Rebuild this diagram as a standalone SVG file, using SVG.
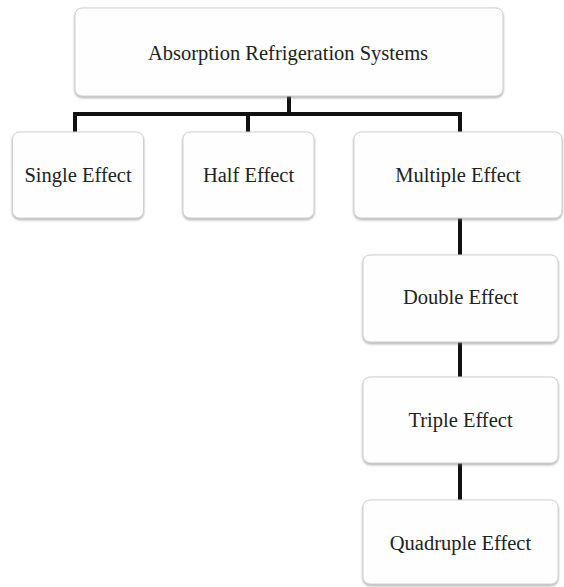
<svg xmlns="http://www.w3.org/2000/svg" width="564" height="587" viewBox="0 0 564 587">
<defs>
<filter id="sh" x="-10%" y="-10%" width="120%" height="130%">
<feDropShadow dx="0" dy="1.5" stdDeviation="1.2" flood-color="#777" flood-opacity="0.6"/>
</filter>
<style>
.box{fill:#fefefe;stroke:#cfcfcf;stroke-width:1;filter:url(#sh)}
.lbl{font-family:"Liberation Serif","Times New Roman",serif;font-size:20.5px;fill:#222;text-anchor:middle}
.con{stroke:#111;stroke-width:4;fill:none;stroke-linecap:butt;stroke-linejoin:miter}
</style>
</defs>
<rect width="564" height="587" fill="#fff"/>
<g id="connectors">
<path class="con" d="M289 96 V114 M75 132 V114 H460 V132 M248 114 V132"/>
<path class="con" d="M460 218 V255 M460 342 V377 M460 463 V500"/>
</g>
<g id="n-absorption"><rect class="box" x="75" y="8" width="428" height="88" rx="7"/><text class="lbl" x="288" y="60">Absorption Refrigeration Systems</text></g>
<g id="n-single"><rect class="box" x="12.5" y="132" width="131" height="86" rx="7"/><text class="lbl" x="78" y="182">Single Effect</text></g>
<g id="n-half"><rect class="box" x="183" y="132" width="131" height="86" rx="7"/><text class="lbl" x="248.5" y="182">Half Effect</text></g>
<g id="n-multiple"><rect class="box" x="354" y="132" width="208" height="86" rx="7"/><text class="lbl" x="458" y="182">Multiple Effect</text></g>
<g id="n-double"><rect class="box" x="363" y="255" width="195" height="87" rx="7"/><text class="lbl" x="460.5" y="304">Double Effect</text></g>
<g id="n-triple"><rect class="box" x="363" y="377" width="195" height="86" rx="7"/><text class="lbl" x="460.5" y="427">Triple Effect</text></g>
<g id="n-quadruple"><rect class="box" x="363" y="500" width="195" height="84" rx="7"/><text class="lbl" x="460.5" y="550">Quadruple Effect</text></g>
</svg>
